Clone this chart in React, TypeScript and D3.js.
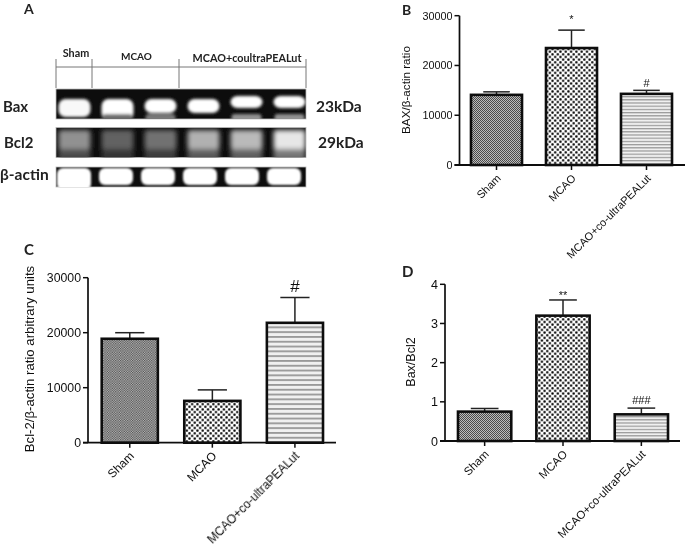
import * as d3 from "d3";

const groups = ["Sham", "MCAO", "MCAO+co-ultraPEALut"];

const baxMean = [14100, 23500, 14300];
const baxTop = [14700, 27100, 15000];
const baxTicks = [0, 10000, 20000, 30000];

const bclMean = [18900, 7600, 21800];
const bclTop = [20000, 9600, 26400];
const bclTicks = [0, 10000, 20000, 30000];

const ratioMean = [0.75, 3.2, 0.68];
const ratioTop = [0.83, 3.6, 0.84];
const ratioTicks = [0, 1, 2, 3, 4];

// blot: one brightness per lane, read by eye
const lanes = ["s1", "m1", "m2", "c1", "c2", "c3"];
const baxMain = [0.97, 1, 1, 1, 1, 1];
const baxLower = [0, 0.4, 0.45, 0, 0.55, 0.55];
const bcl2Band = [0.55, 0.36, 0.42, 0.68, 0.72, 0.9];
const actinBand = [1, 1, 1, 1, 1, 1];

const FONT = "'Liberation Sans', Arial, sans-serif";
const CALIBRI = "Lato, 'Open Sans', sans-serif";

type PanelProps = {
  mean: number[];
  top: number[];
  ticks: number[];
  max: number;
  axisX: number;
  axisEnd: number;
  y0: number;
  yMax: number;
  barLeft: number;
  barRight: number;
  yLabel: string;
  yLabelX: number;
  yLabelY: number;
  labelSize: number;
  fontSize: number;
  titleSize: number;
  suffix: string;
  marks: string[];
  markSize: number;
  markGap: number[];
};

function BarPanel(p: PanelProps) {
  const x = d3.scaleBand().domain(groups).range([p.barLeft, p.barRight]).paddingInner(0.32);
  const y = d3.scaleLinear().domain([0, p.max]).range([p.y0, p.yMax]);
  const fills = ["fine", "coarse", "lines"].map((n) => `url(#${n}${p.suffix})`);
  const bw = x.bandwidth();
  return (
    <g fontFamily={FONT} fill="#111">
      {groups.map((g, i) => {
        const cx = x(g)! + bw / 2;
        return (
          <g key={g}>
            <line x1={cx} x2={cx} y1={y(p.mean[i])} y2={y(p.top[i])} stroke="#222" strokeWidth={1.5} />
            <line x1={cx - bw * 0.26} x2={cx + bw * 0.26} y1={y(p.top[i])} y2={y(p.top[i])} stroke="#222" strokeWidth={1.5} />
            <rect x={x(g)} y={y(p.mean[i])} width={bw} height={p.y0 - y(p.mean[i])} fill={fills[i]} stroke="#111" strokeWidth={2.6} />
            <line x1={cx} x2={cx} y1={p.y0} y2={p.y0 + 5} stroke="#111" strokeWidth={1.5} />
            <text
              textAnchor="end"
              fontSize={p.labelSize}
              fill="#111"
              transform={`translate(${cx + 5},${p.y0 + 14}) rotate(-45)`}
            >
              {g}
            </text>
            {p.marks[i] && (
              <text x={cx} y={y(p.top[i]) - p.markGap[i]} textAnchor="middle" fontSize={p.markSize} fill="#111">
                {p.marks[i]}
              </text>
            )}
          </g>
        );
      })}
      <line x1={p.axisX} x2={p.axisX} y1={p.yMax} y2={p.y0} stroke="#111" strokeWidth={1.7} />
      <line x1={p.axisX - 5} x2={p.axisEnd} y1={p.y0} y2={p.y0} stroke="#111" strokeWidth={1.8} />
      {p.ticks.map((t) => (
        <g key={t}>
          <line x1={p.axisX - 5} x2={p.axisX} y1={y(t)} y2={y(t)} stroke="#111" strokeWidth={1.5} />
          <text x={p.axisX - 7} y={y(t) + p.fontSize * 0.36} textAnchor="end" fontSize={p.fontSize} fill="#111">
            {t}
          </text>
        </g>
      ))}
      <text
        textAnchor="middle"
        fontSize={p.titleSize}
        fill="#111"
        transform={`translate(${p.yLabelX},${p.yLabelY}) rotate(-90)`}
      >
        {p.yLabel}
      </text>
    </g>
  );
}

// fill patterns: fine checker, coarse checker, horizontal stripes
function Patterns({ suffix, fine, line }: { suffix: string; fine: number; line: number }) {
  const c = 5.3;
  return (
    <>
      <pattern id={`fine${suffix}`} width={fine} height={fine} patternUnits="userSpaceOnUse">
        <rect width={fine} height={fine} fill="#bcbcbc" />
        <rect width={fine / 2} height={fine / 2} fill="#4c4c4c" />
        <rect x={fine / 2} y={fine / 2} width={fine / 2} height={fine / 2} fill="#4c4c4c" />
      </pattern>
      <pattern id={`coarse${suffix}`} width={c} height={c} patternUnits="userSpaceOnUse">
        <rect width={c} height={c} fill="#fff" />
        <rect x={0.2} y={0.2} width={c / 2 - 0.4} height={c / 2 - 0.4} rx={0.6} fill="#000" />
        <rect x={c / 2 + 0.2} y={c / 2 + 0.2} width={c / 2 - 0.4} height={c / 2 - 0.4} rx={0.6} fill="#000" />
      </pattern>
      <pattern id={`lines${suffix}`} width={line} height={line} patternUnits="userSpaceOnUse">
        <rect width={line} height={line} fill="#f0f0f0" />
        <rect width={line} height={line * 0.38} fill="#999" />
      </pattern>
    </>
  );
}

function Blot() {
  const lane = d3.scaleBand().domain(lanes).range([53, 311]);
  const actinLane = d3.scaleBand().domain(lanes).range([53, 305]);
  const cx = (n: string) => lane(n)! + lane.bandwidth() / 2;
  const ax = (n: string) => actinLane(n)! + actinLane.bandwidth() / 2;
  const gray = d3.scaleLinear<string>().domain([0, 1]).range(["#0a0a0a", "#ffffff"]);
  const rows = [
    { y: 89, h: 30, id: "rowBax" },
    { y: 127.5, h: 30, id: "rowBcl" },
    { y: 167, h: 20, id: "rowAct" },
  ];
  return (
    <g>
      <defs>
        {rows.map((r) => (
          <clipPath id={r.id} key={r.id}>
            <rect x={56} y={r.y} width={250} height={r.h} />
          </clipPath>
        ))}
        <filter id="soft" x="-30%" y="-50%" width="160%" height="200%">
          <feGaussianBlur stdDeviation="1.6" />
        </filter>
        <filter id="softer" x="-30%" y="-50%" width="160%" height="200%">
          <feGaussianBlur stdDeviation="2.6" />
        </filter>
        <filter id="tight" x="-30%" y="-50%" width="160%" height="200%">
          <feGaussianBlur stdDeviation="0.8" />
        </filter>
      </defs>
      {rows.map((r) => (
        <rect key={r.id} x={56} y={r.y} width={250} height={r.h} fill="#0c0c0c" stroke="#bbb" strokeWidth={0.8} />
      ))}
      <g clipPath="url(#rowBax)">
        {lanes.map((n, i) => {
          const top = i < 4 ? 99 : 96;
          const h = i === 0 ? 18 : i === 1 ? 21 : i < 4 ? 14 : 12;
          return (
            <g key={n} filter="url(#soft)">
              <rect x={cx(n) - 16} y={top} width={32} height={h} rx={7} fill={gray(baxMain[i])} />
              {baxLower[i] > 0 && <rect x={cx(n) - 15} y={114} width={30} height={8} rx={3} fill={gray(baxLower[i])} />}
            </g>
          );
        })}
      </g>
      <g clipPath="url(#rowBcl)">
        {lanes.map((n, i) => (
          <g key={n} filter="url(#softer)">
            <rect x={cx(n) - 16} y={148} width={32} height={12} fill={gray(bcl2Band[i] * 0.5)} />
            <rect x={cx(n) - 16} y={130} width={32} height={19} rx={3} fill={gray(bcl2Band[i])} />
          </g>
        ))}
      </g>
      <g clipPath="url(#rowAct)">
        {lanes.map((n, i) => (
          <rect key={n} x={ax(n) - 17} y={168} width={34} height={i === 0 ? 22 : 17} rx={6} fill={gray(actinBand[i])} filter="url(#tight)" />
        ))}
      </g>
      <g stroke="#777" strokeWidth={1} fill="none">
        <line x1={56} x2={306} y1={67} y2={67} />
        {[56, 92, 179, 306].map((v) => (
          <line key={v} x1={v} x2={v} y1={59} y2={88} />
        ))}
      </g>
      <g fontFamily={CALIBRI} fontWeight={700} fill="#222">
        <text x={76} y={56.5} textAnchor="middle" fontSize={10.8}>Sham</text>
        <text x={136.5} y={60} textAnchor="middle" fontSize={10}>MCAO</text>
        <text x={247} y={62} textAnchor="middle" fontSize={10.8}>MCAO+coultraPEALut</text>
        <text x={3} y={112} fontSize={15}>Bax</text>
        <text x={4} y={148} fontSize={15}>Bcl2</text>
        <text x={0} y={180} fontSize={15.5}>β-actin</text>
        <text x={316} y={112} fontSize={15.5}>23kDa</text>
        <text x={318} y={148} fontSize={15.5}>29kDa</text>
        <text x={24} y={14} fontSize={14}>A</text>
        <text x={402} y={15} fontSize={14}>B</text>
        <text x={24} y={255} fontSize={15}>C</text>
        <text x={402} y={277} fontSize={15}>D</text>
      </g>
    </g>
  );
}

export default function App() {
  return (
    <svg width={685} height={551} style={{ position: "absolute", left: 0, top: 0, background: "#fff" }}>
      <defs>
        <Patterns suffix="S" fine={2} line={3.2} />
        <Patterns suffix="C" fine={2.4} line={4.8} />
        <filter id="scan" x="0" y="0" width="100%" height="100%">
          <feGaussianBlur stdDeviation="0.35" />
        </filter>
      </defs>
      <g filter="url(#scan)">
        <Blot />
        <BarPanel
          mean={baxMean} top={baxTop} ticks={baxTicks} max={30000}
          axisX={459.5} axisEnd={685} y0={165} yMax={15.7} barLeft={471} barRight={672}
          yLabel="BAX/β-actin ratio" yLabelX={410} yLabelY={90} labelSize={11} fontSize={10.8} titleSize={11.7}
          suffix="S" marks={["", "*", "#"]} markSize={11} markGap={[0, 7, 3]}
        />
        <BarPanel
          mean={bclMean} top={bclTop} ticks={bclTicks} max={30000}
          axisX={88} axisEnd={336} y0={442.7} yMax={277.7} barLeft={101.7} barRight={323}
          yLabel="Bcl-2/β-actin ratio arbitrary units" yLabelX={34} yLabelY={359} labelSize={12} fontSize={12.3} titleSize={13.2}
          suffix="C" marks={["", "", "#"]} markSize={17} markGap={[0, 0, 6]}
        />
        <BarPanel
          mean={ratioMean} top={ratioTop} ticks={ratioTicks} max={4}
          axisX={445} axisEnd={680} y0={441} yMax={284.3} barLeft={458} barRight={668}
          yLabel="Bax/Bcl2" yLabelX={415} yLabelY={362} labelSize={11.5} fontSize={12.5} titleSize={12.5}
          suffix="S" marks={["", "**", "###"]} markSize={11} markGap={[0, 1, 4]}
        />
      </g>
    </svg>
  );
}
